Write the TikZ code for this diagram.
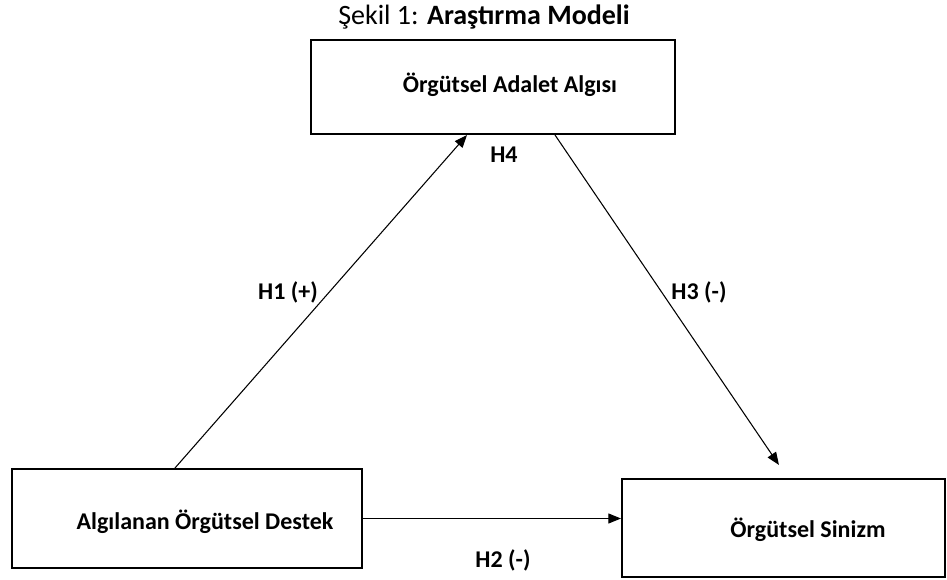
\documentclass[tikz,border=0pt]{standalone}
\usepackage{fontspec}
\setmainfont{Carlito}
\usetikzlibrary{arrows.meta}
\begin{document}
\begin{tikzpicture}[x=0.75pt,y=-0.75pt,
    kutu/.style={draw,line width=1.5pt,rectangle},
    etiket/.style={font=\fontsize{18}{21}\selectfont\bfseries,inner sep=0pt},
    ok/.style={line width=0.8pt,-{Triangle[length=9.5pt,width=7.5pt]}}]
      \useasboundingbox (0,0) rectangle (947,580);
      \node [inner sep=0pt,font=\fontsize{21}{24}\selectfont] (baslik) at (484,17)
       {Şekil 1: \textbf{Araştırma Modeli}};
      \node [kutu,minimum width=273pt,minimum height=70.5pt] (adalet) at (493,87) {};
      \node [kutu,minimum width=262.5pt,minimum height=74.25pt] (destek) at (187,518.5) {};
      \node [kutu,minimum width=242.25pt,minimum height=73.5pt] (sinizm) at (783.5,528) {};
      \node [etiket] (adaletT) at (510,85) {Örgütsel Adalet Algısı};
      \node [etiket] (destekT) at (205,522) {Algılanan Örgütsel Destek};
      \node [etiket] (sinizmT) at (808,530) {Örgütsel Sinizm};
      \draw [ok] ([xshift=-9pt]destek.north) -- ([xshift=-19.5pt]adalet.south);
      \draw [ok] ([xshift=46.5pt]adalet.south) -- ([xshift=-3.4pt,yshift=9.75pt]sinizm.north);
      \draw [ok] (destek.east) -- (destek.east -| sinizm.west);
      \node [etiket] (h1) at (288,292) {H1 (+)};
      \node [etiket] (h2) at (503,560) {H2 (-)};
      \node [etiket] (h3) at (699,292) {H3 (-)};
      \node [etiket] (h4) at (504,155) {H4};
    \end{tikzpicture}
\end{document}
